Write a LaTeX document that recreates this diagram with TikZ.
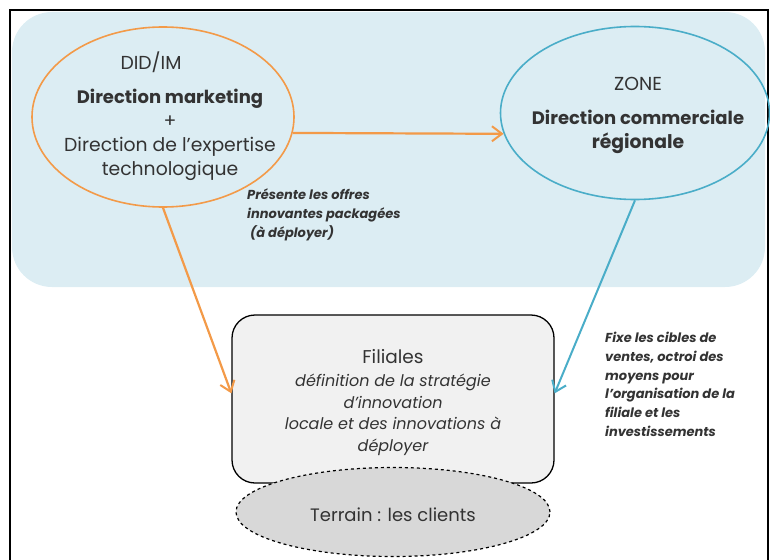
\documentclass[tikz,border=0pt]{standalone}
\usepackage{fontspec}
\setmainfont{Poppins}
\usetikzlibrary{shapes.geometric,arrows.meta}
\definecolor{bgblue}{HTML}{DCEDF3}
\definecolor{orangeline}{HTML}{F39A48}
\definecolor{blueline}{HTML}{4AADC8}
\definecolor{txtgray}{HTML}{333333}
\definecolor{filfill}{HTML}{F1F1F1}
\definecolor{terfill}{HTML}{D8D8D8}

\begin{document}
\begin{tikzpicture}[x=1pt, y=-1pt, node distance={113pt},
  head/.style={-{Straight Barb[length=10pt,width=15pt,line width=2pt]}},
  bubble/.style={ellipse, line width=1.6pt, inner sep=0pt},
  bubbletext/.style={align=center, text=txtgray, inner sep=0pt, font=\fontsize{18.8}{24}\selectfont},
  note/.style={font=\fontsize{13}{18.7}\selectfont\bfseries\itshape, align=left, text=txtgray, inner sep=0pt}]
\useasboundingbox (0,0) rectangle (770,559);
\fill[bgblue, rounded corners=40pt] (12,12) rectangle (765,287);
\draw[line width=1.5pt] (10,10) rectangle (768,575);

\node (did) [bubble, draw=orangeline, minimum width=262pt, minimum height=180pt,
  label={[bubbletext, xshift=7pt, yshift=1pt]center:{DID/IM\hspace*{38pt}\\[10pt]{\fontsize{18}{24}\selectfont\bfseries Direction marketing}\\+\\Direction de l'expertise\\technologique}}] at (163,117) {};
\node (zone) [bubble, draw=blueline, minimum width=269pt, minimum height=173pt,
  label={[bubbletext, xshift=3pt, yshift=-2pt]center:{ZONE\\[10pt]\fontsize{18}{24}\selectfont\bfseries Direction commerciale\\\bfseries régionale}}] at (635,113) {};
\node (fil) [draw, line width=1.3pt, fill=filfill, rounded corners=23pt, minimum width=322pt, minimum height=168pt,
  align=center, text=txtgray, font=\fontsize{16}{21.5}\selectfont] at (393,399)
  {{\fontsize{18.5}{22}\selectfont\rule{0pt}{21pt}Filiales}\\[2pt]\itshape définition de la stratégie\\\itshape d'innovation\\\itshape locale et des innovations à\\\itshape déployer};
\node (ter) [below of=fil, ellipse, draw, dashed, line width=1.2pt, fill=terfill, minimum width=314pt, minimum height=89pt,
  text=txtgray, font=\fontsize{18}{18}\selectfont] {\rule{0pt}{19.5pt}Terrain : les clients};
\node (offres) [note, anchor=north west] at (247,189) {Présente les offres\\innovantes packagées\\\ (à déployer)};
\node (cibles) [note, anchor=north west] at (605,332) {Fixe les cibles de\\ventes, octroi des\\moyens pour\\l'organisation de la\\filiale et les\\investissements};

\draw[orangeline, line width=2.2pt, head] (did.-7) -- (zone.189);
\draw[orangeline, line width=2.2pt, head] (did.south) -- (fil.178);
\draw[blueline, line width=2pt, head] (zone.south) -- (fil.2);
\end{tikzpicture}
\end{document}
